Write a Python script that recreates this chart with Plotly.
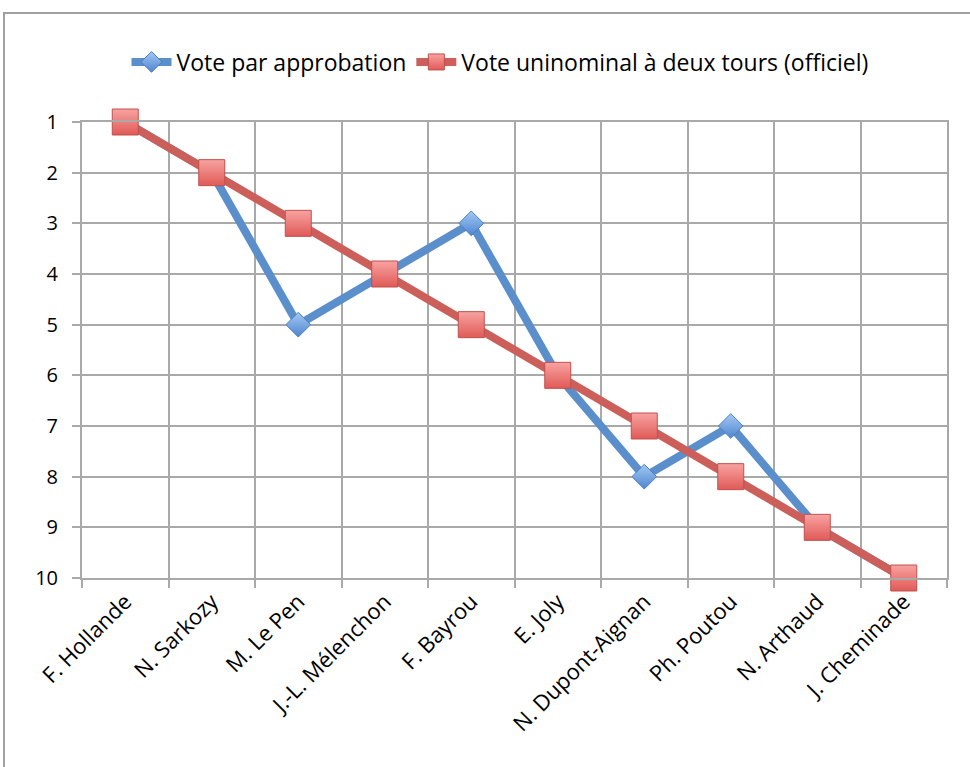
import plotly.graph_objects as go

candidates = ["F. Hollande", "N. Sarkozy", "M. Le Pen", "J.-L. Mélenchon", "F. Bayrou",
              "E. Joly", "N. Dupont-Aignan", "Ph. Poutou", "N. Arthaud", "J. Cheminade"]
approval_rank = [1, 2, 5, 4, 3, 6, 8, 7, 9, 10]
official_rank = [1, 2, 3, 4, 5, 6, 7, 8, 9, 10]
y_ticks = [1, 2, 3, 4, 5, 6, 7, 8, 9, 10]

FONT = "Open Sans"
GRID = "#a9a9a9"

fig = go.Figure()
fig.add_trace(go.Scatter(
    x=candidates, y=approval_rank, name="Vote par approbation",
    mode="lines+markers",
    line=dict(color="#5a8fcb", width=8),
    marker=dict(symbol="diamond", size=19, color="#a3c8f4",
                gradient=dict(type="vertical", color="#4f86cf"),
                line=dict(color="#4a7fc0", width=1)),
    cliponaxis=False,
))
fig.add_trace(go.Scatter(
    x=candidates, y=official_rank, name="Vote uninominal à deux tours (officiel)",
    mode="lines+markers",
    line=dict(color="#cd5f5a", width=8),
    marker=dict(symbol="square", size=26, color="#f8a3a1",
                gradient=dict(type="vertical", color="#e05a57"),
                line=dict(color="#c0504d", width=1)),
    cliponaxis=False,
))

L, R, T, B = 82, 947, 122, 578
W, H = 970, 767
pw, ph = R - L, B - T

fig.update_layout(
    width=W, height=H,
    margin=dict(l=L, r=W - R, t=T, b=H - B, pad=0),
    paper_bgcolor="white", plot_bgcolor="white",
    font=dict(family=FONT, size=20, color="black"),
    showlegend=True,
    legend=dict(orientation="h", x=(500 - L) / pw, xanchor="center",
                y=(B - 62) / ph, yanchor="middle",
                font=dict(size=23, family=FONT), itemwidth=40,
                bgcolor="rgba(0,0,0,0)"),
    xaxis=dict(
        type="category", range=[-0.5, 9.5], tickson="boundaries",
        showgrid=True, gridcolor=GRID, gridwidth=2,
        showline=True, linecolor=GRID, linewidth=2, mirror=True,
        ticks="outside", ticklen=8, tickcolor=GRID, tickwidth=2,
        tickangle=-45, tickfont=dict(size=22, family=FONT),
    ),
    yaxis=dict(
        range=[10, 1], tickvals=y_ticks,
        showgrid=True, gridcolor=GRID, gridwidth=2, zeroline=False,
        showline=True, linecolor=GRID, linewidth=2, mirror=True,
        ticks="outside", ticklen=8, tickcolor=GRID, tickwidth=2,
        tickfont=dict(size=20, family=FONT), ticklabelstandoff=10,
    ),
    shapes=[dict(type="rect", xref="paper", yref="paper",
                 x0=(4 - L) / pw, x1=(990 - L) / pw,
                 y0=(B - 800) / ph, y1=(B - 13) / ph,
                 line=dict(color="#a0a0a0", width=2), fillcolor="rgba(0,0,0,0)",
                 layer="below")],
)

fig.write_html(
    "out.html",
    config={"displayModeBar": False},
    post_script="document.body.style.margin='0';document.body.style.overflow='hidden';"
                "document.documentElement.style.overflow='hidden';",
)
